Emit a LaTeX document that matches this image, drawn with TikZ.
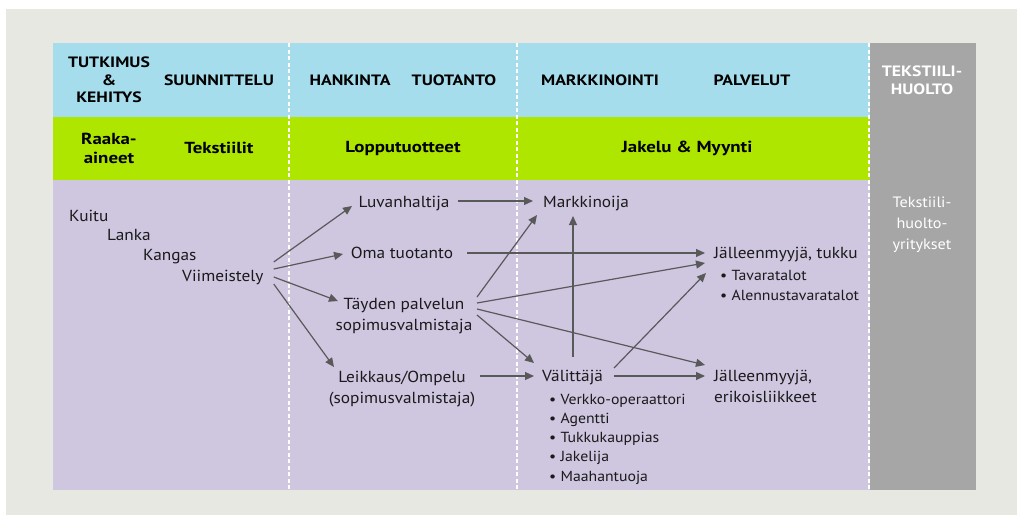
\documentclass[tikz,border=0pt]{standalone}
\usepackage{fontspec}
\setmainfont[FakeStretch=1.08, BoldFeatures={FakeStretch=1.18}]{PT Sans}
\usetikzlibrary{arrows.meta,calc}
\definecolor{bgc}{HTML}{E7E8E2}
\definecolor{hblue}{HTML}{A6DDEC}
\definecolor{hgreen}{HTML}{AEE600}
\definecolor{hpurple}{HTML}{CFC6E0}
\definecolor{hgray}{HTML}{A6A6A6}
\definecolor{arrc}{HTML}{595959}
\definecolor{txt}{HTML}{1A1A1A}
\begin{document}
\begin{tikzpicture}[x=1pt,y=-1pt,
  hdr/.style={font=\fontsize{15}{17.5}\selectfont\bfseries, align=center, inner sep=0pt, text=black},
  grn/.style={font=\fontsize{16}{19}\selectfont\bfseries, align=center, inner sep=0pt, text=black},
  lbl/.style={font=\fontsize{16}{21}\selectfont, inner sep=0pt, text=txt, align=center},
  bul/.style={font=\fontsize{14.6}{19.2}\selectfont, inner sep=0pt, text=txt, align=left},
  arr/.style={draw=arrc, line width=1.2pt, -{Triangle[length=9pt,width=8pt]}},
  sepl/.style={draw=white, line width=1.3pt, dash pattern=on 4pt off 2.5pt}]
\useasboundingbox (0,0) rectangle (1017,515);
\fill[white] (0,0) rectangle (1017,515);
\fill[bgc] (6,9) rectangle (1017,515);
\fill[hblue] (53,43) rectangle (870,117);
\fill[hgreen] (53,117) rectangle (870,180);
\fill[hpurple] (53,180) rectangle (870,490);
\fill[hgray] (870,43) rectangle (976,490);
\draw[sepl] (289,43) -- (289,490);
\draw[sepl] (517,43) -- (517,490);
\draw[sepl] (869,43) -- (869,490);
% header row
\node[hdr] (tk) at (109,80) {TUTKIMUS\\\&\\KEHITYS};
\node[hdr] (su) at (219,80) {SUUNNITTELU};
\node[hdr] (ha) at (350,80) {HANKINTA};
\node[hdr] (tu) at (454,80) {TUOTANTO};
\node[hdr] (mk) at (600,80) {MARKKINOINTI};
\node[hdr] (pa) at (752,80) {PALVELUT};
\node[hdr,text=white] (th) at (922,80) {TEKSTIILI-\\HUOLTO};
% green row
\node[grn] (ra) at (109,148) {Raaka-\\aineet};
\node[grn] (te) at (219,148) {Tekstiilit};
\node[grn] (lo) at (403,148) {Lopputuotteet};
\node[grn] (ja) at (687,148) {Jakelu \& Myynti};
% purple area
\node[lbl,anchor=base west] (ku) at (69,221) {Kuitu};
\node[lbl,anchor=base west] (la) at (107,240) {Lanka};
\node[lbl,anchor=base west] (ka) at (143,260) {Kangas};
\node[lbl,anchor=base west] (vi) at (182,281) {Viimeistely};
\node[lbl,anchor=base] (lu) at (404,207) {Luvanhaltija};
\node[lbl,anchor=base] (om) at (402,258) {Oma tuotanto};
\node[lbl,anchor=base] (ty) at (404,330) {Täyden palvelun\\sopimusvalmistaja};
\node[lbl,anchor=base] (le) at (402,403) {Leikkaus/Ompelu\\(sopimusvalmistaja)};
\node[lbl,anchor=base west] (mr) at (543,207) {Markkinoija};
\node[lbl,anchor=base west] (jt) at (714,258) {Jälleenmyyjä, tukku};
\node[bul,anchor=base west] (jtb) at (720,300) {• Tavaratalot\\• Alennustavaratalot};
\node[lbl,anchor=base west] (va) at (542,381) {Välittäjä};
\node[bul,anchor=base west] (vab) at (549,481) {• Verkko-operaattori\\• Agentti\\• Tukkukauppias\\• Jakelija\\• Maahantuoja};
\node[lbl,anchor=base west,align=left] (je) at (714,402) {Jälleenmyyjä,\\erikoisliikkeet};
\node[lbl,font=\fontsize{15}{21}\selectfont,text=white,anchor=base] (tr) at (922,249) {Tekstiili-\\huolto-\\yritykset};
% arrows
\draw[arr] ($(vi.base east)+(10,-19)$) -- ($(lu.base)+(-52,-1)$);
\draw[arr] ($(vi.base east)+(10,-12)$) -- ($(om.base)+(-59,-4)$);
\draw[arr] ($(vi.base east)+(10,-4)$) -- ($(ty.base)+(-66,-29)$);
\draw[arr] ($(vi.base east)+(10,3)$) -- ($(le.base)+(-68,-36)$);
\draw[arr] ($(lu.base)+(54,-6)$) -- ($(mr.base west)+(-10,-6)$);
\draw[arr] ($(om.base)+(65,-5)$) -- ($(jt.base west)+(-9,-5)$);
\draw[arr] ($(ty.base)+(73,-33)$) -- ($(mr.base west)+(-6,8)$);
\draw[arr] ($(ty.base)+(73,-27)$) -- ($(jt.base west)+(-9,5)$);
\draw[arr] ($(ty.base)+(73,-21)$) -- ($(je.base west)+(-9,-37)$);
\draw[arr] ($(ty.base)+(73,-15)$) -- ($(va.base west)+(-8,-18)$);
\draw[arr] ($(le.base)+(78,-27)$) -- ($(va.base west)+(-8,-5)$);
\draw[arr] ($(va.base west)+(31,-24)$) -- ($(mr.base west)+(30,9)$);
\draw[arr] ($(va.base west)+(72,-13)$) -- ($(jt.base west)+(-8,15)$);
\draw[arr] ($(va.base west)+(72,-5)$) -- ($(je.base west)+(-9,-26)$);
\end{tikzpicture}
\end{document}
